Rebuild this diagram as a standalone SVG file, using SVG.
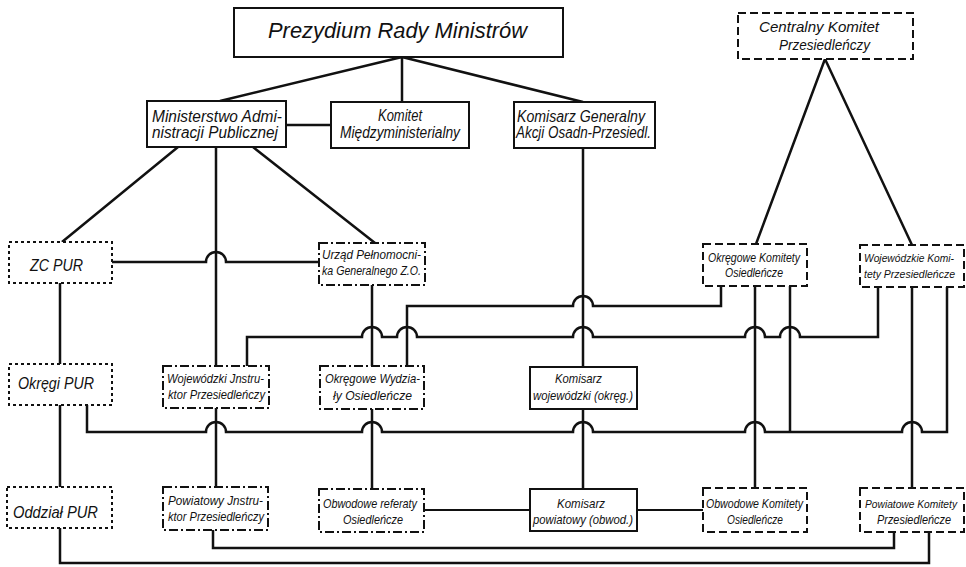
<svg xmlns="http://www.w3.org/2000/svg" width="966" height="567" viewBox="0 0 966 567">
<style>
.bg{fill:#fff}
.box{fill:#fff;stroke:#111;stroke-width:2}
.solid{}
.dash{stroke-dasharray:8 4}
.dot{stroke-dasharray:3 3}
.dd{stroke-dasharray:9 3 2 3}
.c{fill:none;stroke:#111;stroke-width:2.5}
.t{fill:#111;font-family:"Liberation Sans","DejaVu Sans",sans-serif;font-style:italic}
.xl{font-size:22px}
.l{font-size:16px}
.m{font-size:14px}
.s{font-size:13px}
.xs{font-size:11px}
.pur{font-size:17px}
</style>
<rect class="bg" x="0" y="0" width="966" height="567"/>
<g id="connectors">
<path class="c" d="M402 57 L220 101 M402 57 L402 102 M402 57 L583 102"/>
<path class="c" d="M286 125 L331 125"/>
<path class="c" d="M825 59 L756 244 M825 59 L912 245"/>
<path class="c" d="M178 147 L62 242 M216 147 L216 366 M253 147 L375 243"/>
<path class="c" d="M112 262 H206 A10 10 0 0 1 226 262 H319"/>
<path class="c" d="M60 283 V364 M60 405 V487"/>
<path class="c" d="M216 408 V487"/>
<path class="c" d="M372 285 V366 M372 409 V489"/>
<path class="c" d="M583 148 V367 M583 409 V489"/>
<path class="c" d="M721 286 V306 H593 A10 10 0 0 0 573 306 H407 V366"/>
<path class="c" d="M247 366 V337 H362 A10 10 0 0 1 382 337 H397 A10 10 0 0 1 417 337 H573 A10 10 0 0 1 593 337 H745 A10 10 0 0 1 765 337 H780 A10 10 0 0 1 800 337 H878 V287"/>
<path class="c" d="M87 405 V432 H206 A10 10 0 0 1 226 432 H362 A10 10 0 0 1 382 432 H573 A10 10 0 0 1 593 432 H745 A10 10 0 0 1 765 432 H902 A10 10 0 0 1 922 432 H947 V287"/>
<path class="c" d="M790 286 V432"/>
<path class="c" d="M755 286 V488 M912 287 V488"/>
<path class="c" style="stroke-width:2" d="M424 510 H530 M637 510 H703"/>
<path class="c" d="M213 530 V548 H894 V532"/>
<path class="c" d="M60 528 V563 H929 V532"/>
</g>
<g id="prezydium">
<rect class="box solid" x="234" y="8" width="329" height="49"/>
<text class="t xl" x="268" y="38" textLength="259" lengthAdjust="spacingAndGlyphs">Prezydium  Rady  Ministrów</text>
</g>
<g id="ministerstwo">
<rect class="box solid" x="147" y="101" width="139" height="46"/>
<text class="t l" x="152" y="122" textLength="130" lengthAdjust="spacingAndGlyphs">Ministerstwo Admi-</text>
<text class="t l" x="152" y="138" textLength="126" lengthAdjust="spacingAndGlyphs">nistracji Publicznej</text>
</g>
<g id="komitet">
<rect class="box solid" x="331" y="102" width="138" height="46"/>
<text class="t l" x="378" y="121" textLength="44" lengthAdjust="spacingAndGlyphs">Komitet</text>
<text class="t l" x="340" y="138" textLength="120" lengthAdjust="spacingAndGlyphs">Międzyministerialny</text>
</g>
<g id="komisarz-generalny">
<rect class="box solid" x="514" y="102" width="141" height="46"/>
<text class="t l" x="517" y="122" textLength="128" lengthAdjust="spacingAndGlyphs">Komisarz Generalny</text>
<text class="t l" x="516" y="138" textLength="135" lengthAdjust="spacingAndGlyphs">Akcji Osadn-Przesiedl.</text>
</g>
<g id="centralny">
<rect class="box dash" x="738" y="13" width="175" height="46"/>
<text class="t m" x="759" y="32" textLength="120" lengthAdjust="spacingAndGlyphs">Centralny Komitet</text>
<text class="t m" x="779" y="50" textLength="91" lengthAdjust="spacingAndGlyphs">Przesiedleńczy</text>
</g>
<g id="zc-pur">
<rect class="box dot" x="9" y="242" width="103" height="41"/>
<text class="t pur" x="30" y="271" textLength="53" lengthAdjust="spacingAndGlyphs">ZC  PUR</text>
</g>
<g id="urzad">
<rect class="box dd" x="319" y="243" width="106" height="42"/>
<text class="t s" x="322" y="259" textLength="99" lengthAdjust="spacingAndGlyphs">Urząd Pełnomocni-</text>
<text class="t s" x="322" y="275" textLength="99" lengthAdjust="spacingAndGlyphs">ka Generalnego Z.O.</text>
</g>
<g id="okregowe-komitety">
<rect class="box dash" x="703" y="244" width="104" height="42"/>
<text class="t s" x="708" y="262" textLength="92" lengthAdjust="spacingAndGlyphs">Okręgowe Komitety</text>
<text class="t s" x="725" y="277" textLength="58" lengthAdjust="spacingAndGlyphs">Osiedleńcze</text>
</g>
<g id="wojewodzkie-komitety">
<rect class="box dash" x="860" y="245" width="104" height="42"/>
<text class="t xs" x="864" y="262" textLength="90" lengthAdjust="spacingAndGlyphs">Wojewódzkie Komi-</text>
<text class="t xs" x="864" y="278" textLength="91" lengthAdjust="spacingAndGlyphs">tety Przesiedleńcze</text>
</g>
<g id="okregi-pur">
<rect class="box dot" x="9" y="364" width="103" height="41"/>
<text class="t pur" x="18" y="389" textLength="76" lengthAdjust="spacingAndGlyphs">Okręgi  PUR</text>
</g>
<g id="wojewodzki-instruktor">
<rect class="box dd" x="163" y="366" width="106" height="42"/>
<text class="t s" x="167" y="383" textLength="97" lengthAdjust="spacingAndGlyphs">Wojewódzki Jnstru-</text>
<text class="t s" x="168" y="399" textLength="97" lengthAdjust="spacingAndGlyphs">ktor Przesiedleńczy</text>
</g>
<g id="okregowe-wydzialy">
<rect class="box dd" x="320" y="366" width="104" height="43"/>
<text class="t s" x="325" y="383" textLength="95" lengthAdjust="spacingAndGlyphs">Okręgowe Wydzia-</text>
<text class="t s" x="333" y="400" textLength="79" lengthAdjust="spacingAndGlyphs">ły  Osiedleńcze</text>
</g>
<g id="komisarz-wojewodzki">
<rect class="box solid" x="530" y="367" width="107" height="42"/>
<text class="t s" x="555" y="383" textLength="47" lengthAdjust="spacingAndGlyphs">Komisarz</text>
<text class="t s" x="533" y="400" textLength="100" lengthAdjust="spacingAndGlyphs">wojewódzki (okręg.)</text>
</g>
<g id="oddzial-pur">
<rect class="box dot" x="7" y="487" width="105" height="41"/>
<text class="t pur" x="13" y="518" textLength="85" lengthAdjust="spacingAndGlyphs">Oddział  PUR</text>
</g>
<g id="powiatowy-instruktor">
<rect class="box dd" x="163" y="487" width="105" height="43"/>
<text class="t s" x="168" y="505" textLength="95" lengthAdjust="spacingAndGlyphs">Powiatowy Jnstru-</text>
<text class="t s" x="168" y="521" textLength="96" lengthAdjust="spacingAndGlyphs">ktor Przesiedleńczy</text>
</g>
<g id="obwodowe-referaty">
<rect class="box dd" x="319" y="489" width="105" height="43"/>
<text class="t s" x="323" y="508" textLength="94" lengthAdjust="spacingAndGlyphs">Obwodowe referaty</text>
<text class="t s" x="343" y="524" textLength="60" lengthAdjust="spacingAndGlyphs">Osiedleńcze</text>
</g>
<g id="komisarz-powiatowy">
<rect class="box solid" x="530" y="489" width="107" height="42"/>
<text class="t s" x="557" y="508" textLength="48" lengthAdjust="spacingAndGlyphs">Komisarz</text>
<text class="t s" x="533" y="524" textLength="100" lengthAdjust="spacingAndGlyphs">powiatowy (obwod.)</text>
</g>
<g id="obwodowe-komitety">
<rect class="box dash" x="703" y="488" width="104" height="44"/>
<text class="t s" x="706" y="508" textLength="97" lengthAdjust="spacingAndGlyphs">Obwodowe Komitety</text>
<text class="t s" x="727" y="524" textLength="56" lengthAdjust="spacingAndGlyphs">Osiedleńcze</text>
</g>
<g id="powiatowe-komitety">
<rect class="box dash" x="860" y="488" width="104" height="44"/>
<text class="t xs" x="865" y="508" textLength="92" lengthAdjust="spacingAndGlyphs">Powiatowe Komitety</text>
<text class="t s" x="877" y="524" textLength="74" lengthAdjust="spacingAndGlyphs">Przesiedleńcze</text>
</g>
</svg>
